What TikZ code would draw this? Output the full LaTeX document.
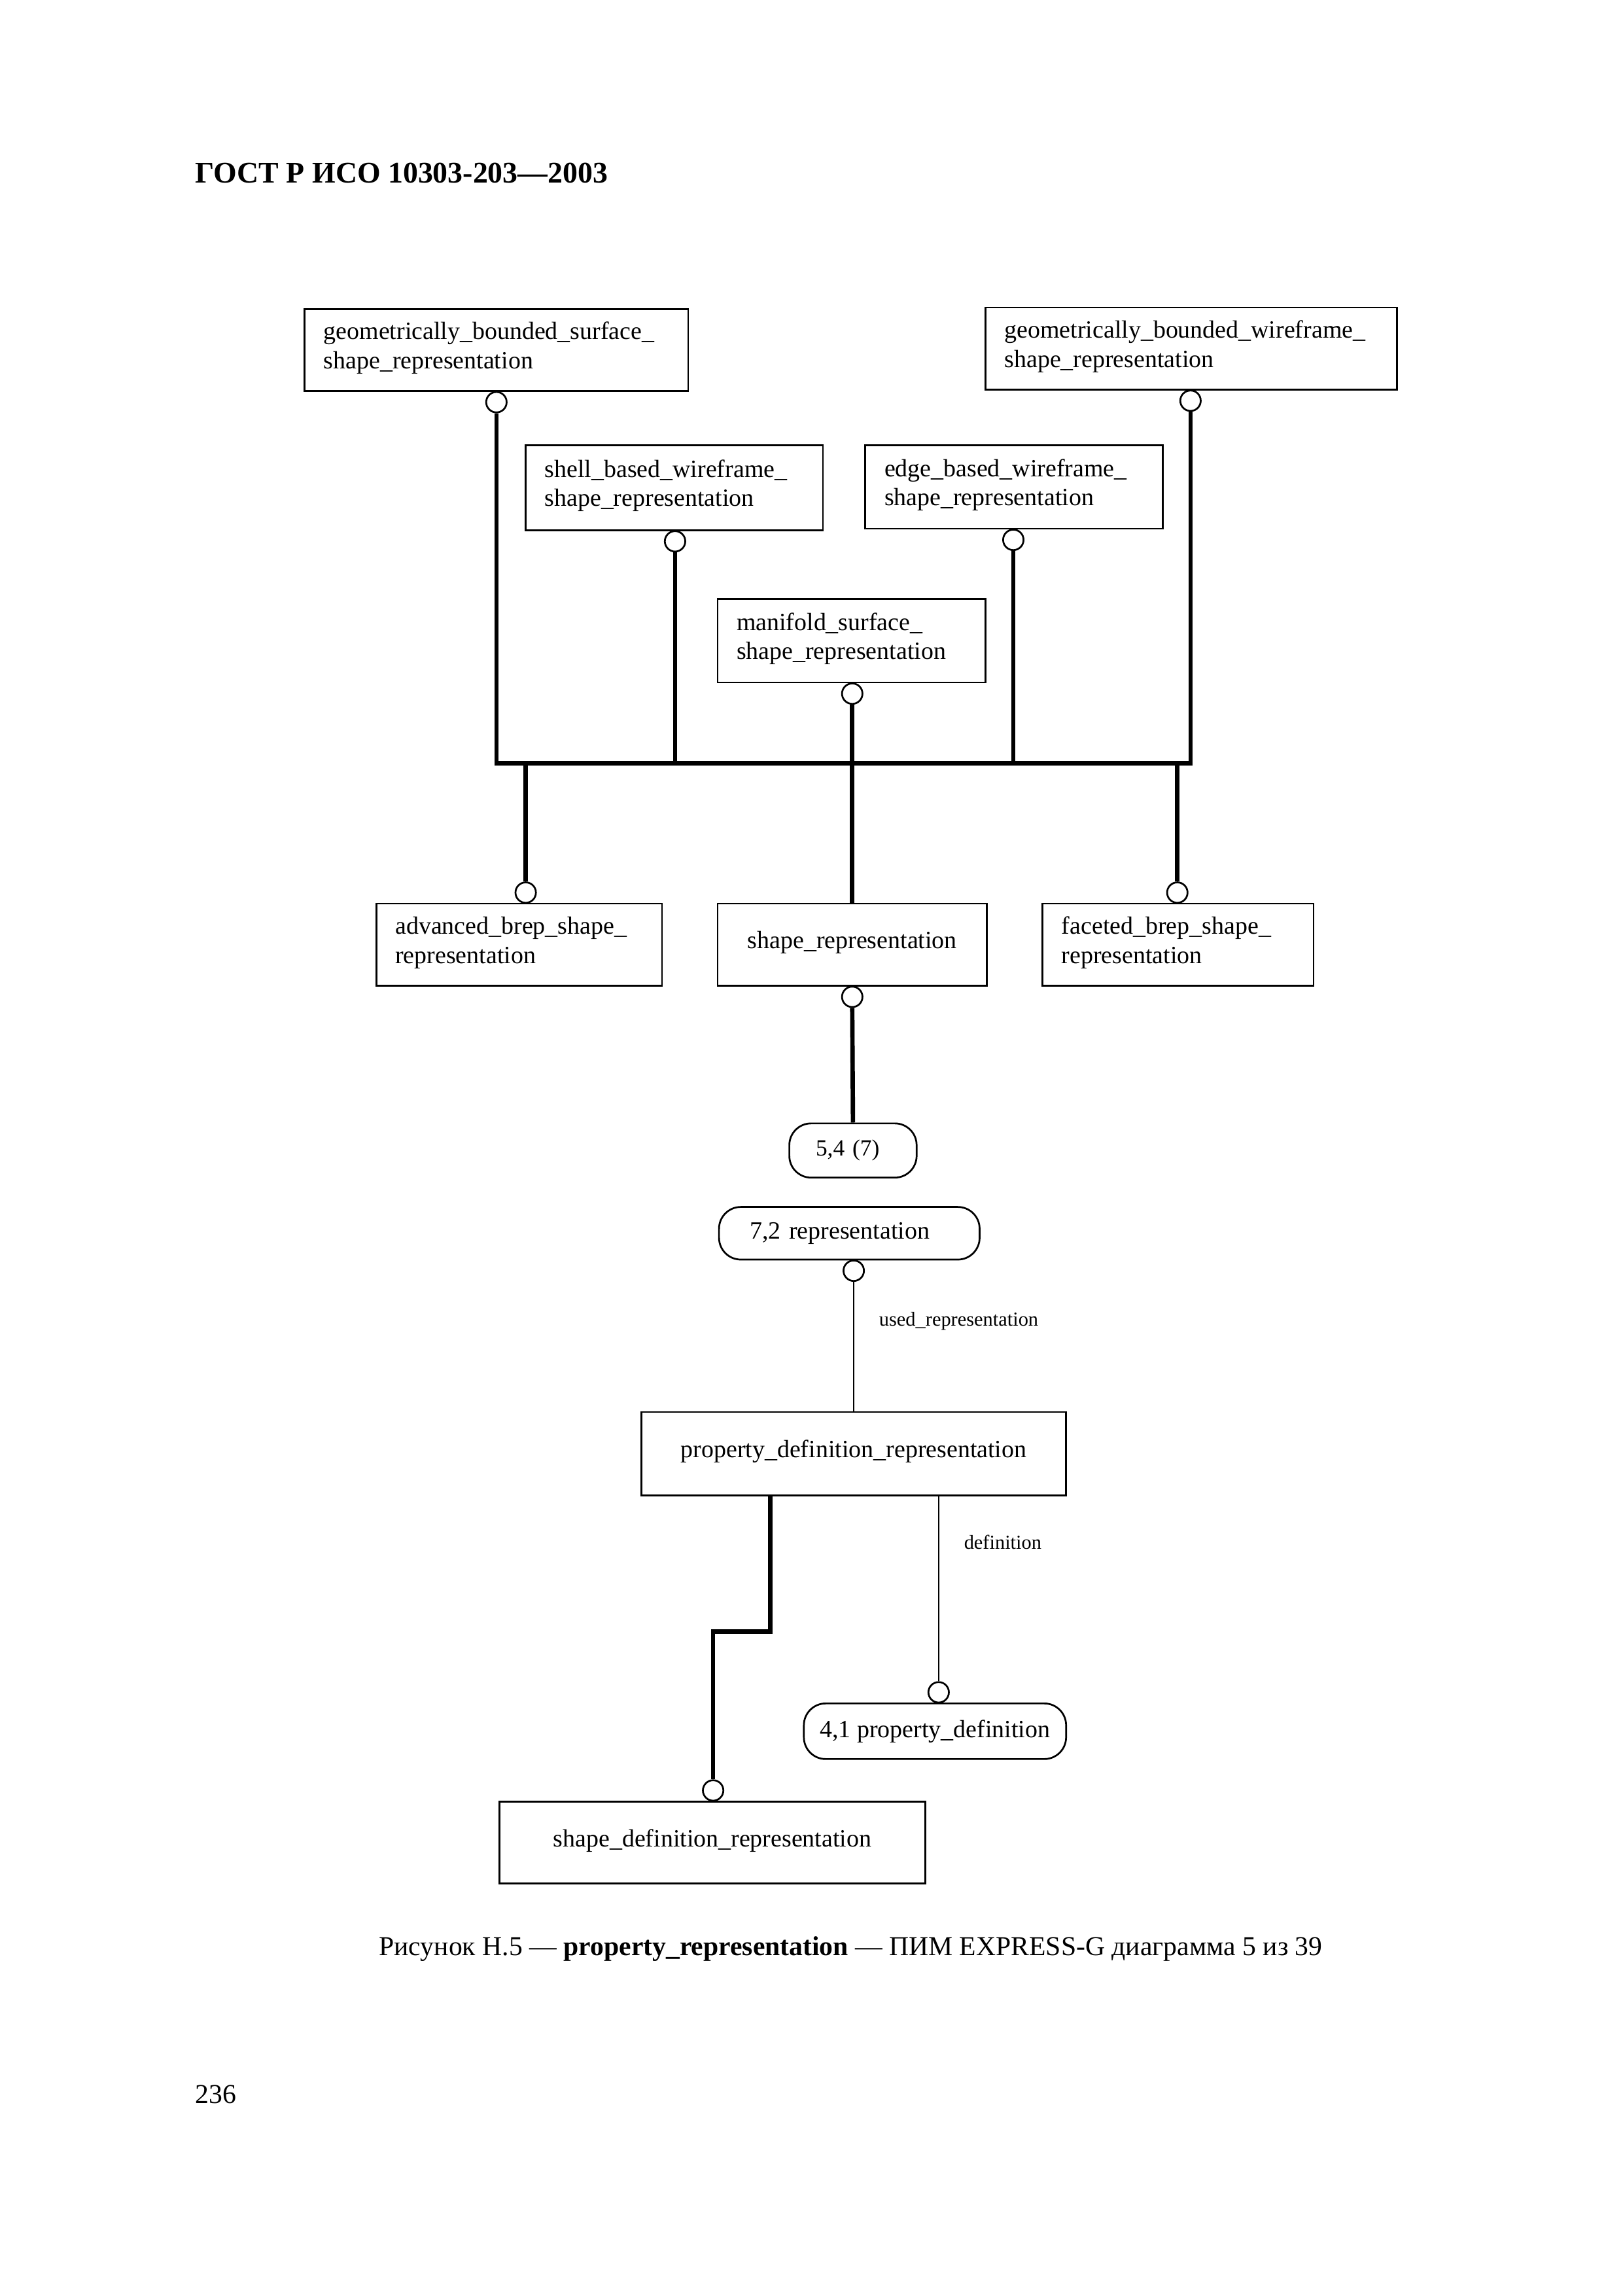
\documentclass[tikz,border=0pt]{standalone}
\usepackage{fontspec}
\setmainfont{Liberation Serif}
\begin{document}
\begin{tikzpicture}[x=0.5372pt,y=-0.5372pt,
  ent/.style={draw,line width=0.65pt,inner xsep=7pt,inner ysep=0pt,align=left,
    text depth=14.2pt,font=\fontsize{9.1}{10.75}\selectfont},
  entc/.style={draw,line width=0.65pt,inner xsep=7pt,inner ysep=0pt,align=center,
    text depth=3.4pt,font=\fontsize{9.1}{10.75}\selectfont},
  rbox/.style={draw,rounded corners=8pt,line width=0.65pt,inner ysep=0pt,
    font=\fontsize{9.1}{10.75}\selectfont},
  oc/.style={circle,draw,line width=0.65pt,fill=white,inner sep=0pt,minimum size=7.5pt},
  thk/.style={line width=1.6pt},
  thn/.style={line width=0.55pt},
  lbl/.style={font=\fontsize{7.3}{8}\selectfont,inner sep=0pt,anchor=west}]
\useasboundingbox (0,0) rectangle (1108.2,1567.6);

% header, caption, page number
\node[anchor=base west,inner sep=0pt,font=\fontsize{11}{13}\selectfont\bfseries] (title) at (133,125) {ГОСТ Р ИСО 10303-203—2003};
\node[anchor=base,inner sep=0pt,font=\fontsize{10}{12}\selectfont] (caption) at (581,1335) {Рисунок Н.5 — \textbf{property\_representation} — ПИМ EXPRESS-G диаграмма 5 из 39};
\node[anchor=base west,inner sep=0pt,font=\fontsize{10}{12}\selectfont] (pageno) at (133,1436) {236};

% entity boxes
\node[ent,text width=126.7pt,minimum height=30.1pt] (gbs) at (339,239) {\mbox{geometrically\_bounded\_surface\_}\\\mbox{shape\_representation}};
\node[ent,text width=137.0pt,minimum height=30.1pt] (gbw) at (813.5,238) {\mbox{geometrically\_bounded\_wireframe\_}\\\mbox{shape\_representation}};
\node[ent,text width=95.1pt,minimum height=31.2pt] (sbw) at (460.5,333) {\mbox{shell\_based\_wireframe\_}\\\mbox{shape\_representation}};
\node[ent,text width=95.1pt,minimum height=30.6pt] (ebw) at (692.5,332.5) {\mbox{edge\_based\_wireframe\_}\\\mbox{shape\_representation}};
\node[ent,text width=84.3pt,minimum height=30.6pt] (ms) at (581.5,437.5) {\mbox{manifold\_surface\_}\\\mbox{shape\_representation}};
\node[ent,text width=90.8pt,minimum height=30.1pt] (abs) at (354.5,645) {\mbox{advanced\_brep\_shape\_}\\\mbox{representation}};
\node[entc,text width=84.8pt,minimum height=30.1pt] (sr) at (582,645) {\mbox{shape\_representation}};
\node[ent,text width=85.4pt,minimum height=30.1pt] (fbs) at (804.5,645) {\mbox{faceted\_brep\_shape\_}\\\mbox{representation}};
\node[entc,text width=141.8pt,minimum height=30.6pt] (pdr) at (583,992.5) {\mbox{property\_definition\_representation}};
\node[entc,text width=142.3pt,minimum height=30.1pt] (sdr) at (486.5,1258) {\mbox{shape\_definition\_representation}};

% page references
\node[rbox,inner xsep=9.7pt,text width=27.3pt,align=left,minimum height=19.9pt,font=\fontsize{8.5}{10}\selectfont] (r54) at (582.5,785.5) {5,4 (7)};
\node[rbox,inner xsep=11.3pt,text width=73pt,align=left,minimum height=19.3pt] (r72) at (580,842) {7,2 representation};
\node[rbox,inner xsep=0pt,align=center,minimum width=96.2pt,minimum height=20.4pt] (r41) at (638.5,1182) {4,1 property\_definition};

% circles
\node[oc,anchor=north] (c1) at (339,267) {};
\node[oc,anchor=north] (c2) at (813,266) {};
\node[oc,anchor=north] (c3) at (461,362) {};
\node[oc,anchor=north] (c4) at (692,361) {};
\node[oc,anchor=north] (c5) at (582,466) {};
\node[oc,anchor=south] (c6) at (359,617) {};
\node[oc,anchor=south] (c8) at (804,617) {};
\node[oc,anchor=north] (c7) at (582,673) {};
\node[oc,anchor=north] (c9) at (583,860) {};
\node[oc,anchor=south] (c10) at (487,1230) {};
\node[oc,anchor=south] (c11) at (641,1163) {};

% bus
\coordinate (bus) at (582,521);
\coordinate (k1) at (526,1114);

\draw[thk] (c1.south) -- (c1.south |- bus) -- (c2.south |- bus) -- (c2.south);
\draw[thk] (c3.south) -- (c3.south |- bus);
\draw[thk] (c4.south) -- (c4.south |- bus);
\draw[thk] (c5.south) -- (sr.north);
\draw[thk] (c6.north |- bus) -- (c6.north);
\draw[thk] (c8.north |- bus) -- (c8.north);
\draw[thk] (c7.south) -- (r54.north);

\draw[thn] (c9.south) -- (pdr.north);
\node[lbl] (lused) at (600,902) {used\_representation};

\draw[thk] (pdr.south -| k1) -- (k1) -- (k1 -| c10.north) -- (c10.north);
\draw[thn] (pdr.south -| c11.north) -- (c11.north);
\node[lbl] (ldef) at (658,1053) {definition};
\end{tikzpicture}
\end{document}
